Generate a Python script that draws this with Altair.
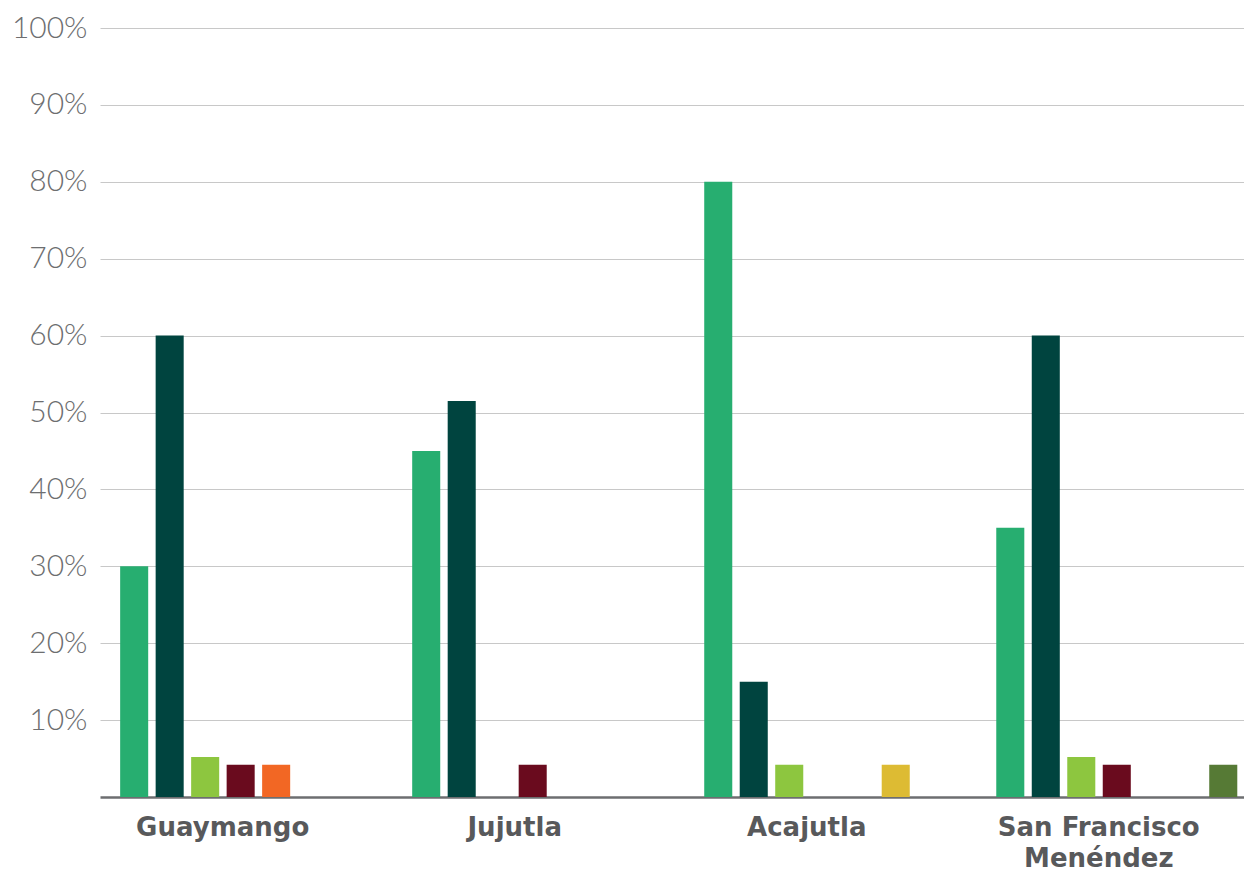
import altair as alt
import pandas as pd

municipios = ["Guaymango", "Jujutla", "Acajutla", "San Francisco Menéndez"]
series = ["Serie 1", "Serie 2", "Serie 3", "Serie 4", "Serie 5", "Serie 6", "Serie 7"]
colores = ["#27AE70", "#00443F", "#8DC63F", "#6A0B1E", "#F26724", "#DDBB33", "#567A35"]

# values in percent, per series, in the order of municipios (None = no bar)
serie_1 = [30, 45, 80, 35]
serie_2 = [60, 51.5, 15, 60]
serie_3 = [5.2, None, 4.2, 5.2]
serie_4 = [4.2, 4.2, None, 4.2]
serie_5 = [4.2, None, None, None]
serie_6 = [None, None, 4.2, None]
serie_7 = [None, None, None, 4.2]

tabla = [serie_1, serie_2, serie_3, serie_4, serie_5, serie_6, serie_7]
rows = []
for s, vals in zip(series, tabla):
    for m, v in zip(municipios, vals):
        if v is not None:
            rows.append({"municipio": m, "serie": s, "valor": v / 100})
df = pd.DataFrame(rows)

ticks_y = [i / 10 for i in range(1, 11)]

chart = alt.Chart(df).mark_bar().encode(
    x=alt.X(
        "municipio:N",
        sort=municipios,
        scale=alt.Scale(paddingInner=0.1747, paddingOuter=0.046, align=0.75),
        axis=alt.Axis(
            title=None,
            labelAngle=0,
            ticks=False,
            domainColor="#6d6e70",
            domainWidth=2.5,
            labelFont="DejaVu Sans",
            labelFontWeight=700,
            labelFontSize=26,
            labelColor="#58595b",
            labelPadding=17,
            labelOffset=-18,
            labelLineHeight=31,
            labelBaseline="top",
            labelLimit=0,
            labelExpr="datum.label == 'San Francisco Menéndez' ? ['San Francisco', 'Menéndez'] : datum.label",
        ),
    ),
    xOffset=alt.XOffset("serie:N", sort=series, scale=alt.Scale(paddingInner=0.21, paddingOuter=0)),
    y=alt.Y(
        "valor:Q",
        scale=alt.Scale(domain=[0, 1]),
        axis=alt.Axis(
            title=None,
            values=ticks_y,
            format=".0%",
            ticks=False,
            domain=False,
            gridColor="#c8c8c8",
            gridWidth=1,
            labelFont="Lato",
            labelFontWeight=300,
            labelFontSize=30,
            labelColor="#6d6e70",
            labelPadding=13,
        ),
    ),
    color=alt.Color("serie:N", scale=alt.Scale(domain=series, range=colores), legend=None),
).properties(
    width=1144,
    height=769,
    autosize=alt.AutoSizeParams(type="none"),
    padding={"left": 92, "top": 20, "right": 0, "bottom": 74},
).configure_view(stroke=None)

chart.save("out.html", embed_options={"renderer": "svg", "actions": False})
